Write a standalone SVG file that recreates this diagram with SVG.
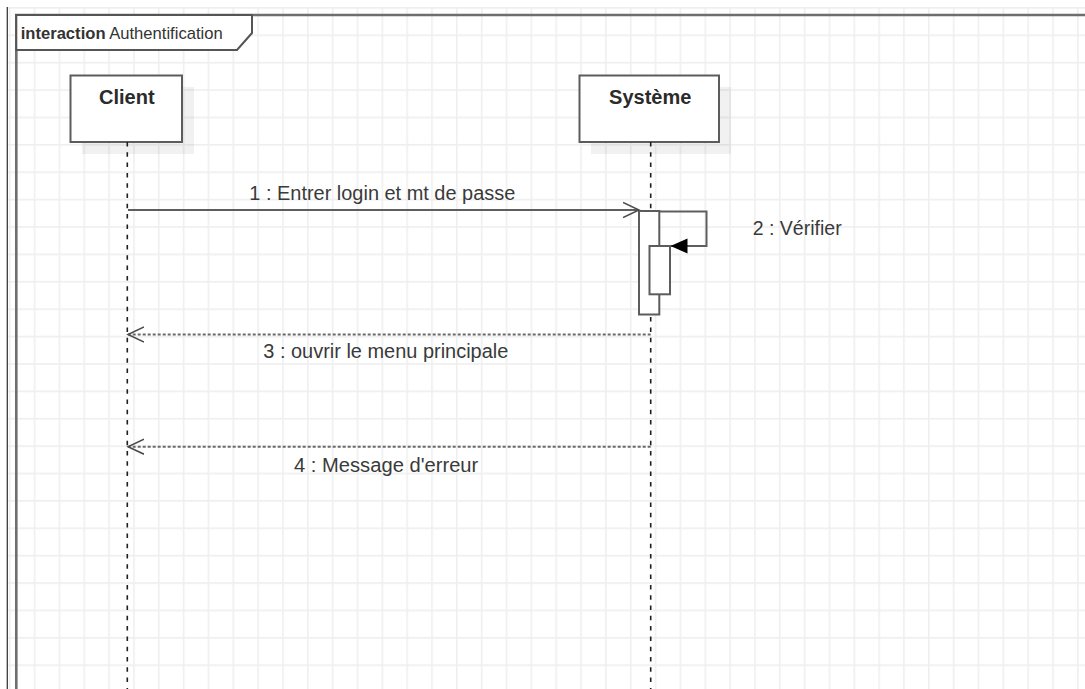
<svg xmlns="http://www.w3.org/2000/svg" width="1085" height="689" viewBox="0 0 1085 689">
  <style>
    .grid { stroke: #efefef; stroke-width: 1.6; fill: none; }
    .box { fill: #ffffff; stroke: #5c5c5c; stroke-width: 2; }
    .shadow { fill: #000000; fill-opacity: 0.055; }
    .title { font-family: "Liberation Sans", Arial, sans-serif; font-size: 20px; font-weight: bold; fill: #2b2b2b; text-anchor: middle; }
    .lbl { font-family: "Liberation Sans", Arial, sans-serif; font-size: 20px; fill: #3a3a3a; }
    .frm { font-family: "Liberation Sans", Arial, sans-serif; font-size: 16.6px; fill: #333333; }
    .lifeline { stroke: #1e1e1e; stroke-width: 1.6; stroke-dasharray: 4.5 5.8; fill: none; }
    .msg { stroke: #5e5e5e; stroke-width: 2; fill: none; }
    .ret { stroke: #6a6a6a; stroke-width: 2; stroke-dasharray: 3 2; fill: none; }
    .act { fill: #ffffff; stroke: #5c5c5c; stroke-width: 2; }
  </style>
  <defs>
    <pattern id="gridpat" patternUnits="userSpaceOnUse" x="8.9" y="7" width="24.84" height="27.39">
      <path d="M0.8,0 V27.39 M0,0.8 H24.84" class="grid"/>
    </pattern>
    <marker id="open" markerUnits="userSpaceOnUse" viewBox="0 0 18 18" refX="16" refY="9" markerWidth="18" markerHeight="18" orient="auto">
      <path d="M0,1.5 L16,9 L0,16.5" fill="none" stroke="#4a4a4a" stroke-width="1.5"/>
    </marker>
    <marker id="filled" markerUnits="userSpaceOnUse" viewBox="0 0 18 18" refX="17" refY="9" markerWidth="18" markerHeight="18" orient="auto">
      <path d="M0,1.5 L17,9 L0,16.5 Z" fill="#000000"/>
    </marker>
  </defs>

  <rect x="0" y="0" width="1085" height="689" fill="#ffffff"/>
  <rect x="7" y="7" width="1078" height="682" fill="url(#gridpat)"/>
  <line x1="7.3" y1="7" x2="7.3" y2="689" stroke="#3a3a3a" stroke-width="1.3"/>

  <g id="frame">
    <path d="M16.3,689 V15 H1085" fill="none" stroke="#6e6e6e" stroke-width="2.6"/>
    <path d="M16.3,15 H252 V33 L237,50 H16.3 Z" fill="#ffffff" stroke="#555555" stroke-width="2"/>
    <text x="20.7" y="39.3" class="frm"><tspan font-weight="bold">interaction</tspan> Authentification</text>
  </g>

  <g id="node-client">
    <rect x="82" y="87" width="112" height="67" class="shadow"/>
    <rect x="70.5" y="75.5" width="111.5" height="66.5" class="box"/>
    <text x="126.8" y="104.3" class="title">Client</text>
  </g>

  <g id="node-systeme">
    <rect x="591" y="87" width="140" height="67" class="shadow"/>
    <rect x="579.5" y="75.5" width="139.5" height="66.5" class="box"/>
    <text x="650.2" y="104" class="title">Système</text>
  </g>

  <g id="connectors">
    <line x1="127.3" y1="142" x2="127.3" y2="689" class="lifeline"/>
    <line x1="650.7" y1="142" x2="650.7" y2="689" class="lifeline"/>

    <g id="activation">
      <rect x="639" y="211" width="20.3" height="103.5" class="act"/>
    </g>

    <path id="msg1" d="M128,210 H639" class="msg" marker-end="url(#open)"/>
    <path id="msg2" d="M659.3,211.5 H706.5 V246 H670.5" class="msg" marker-end="url(#filled)"/>
    <g id="activation2">
      <rect x="649.5" y="246" width="20.5" height="48.3" class="act"/>
    </g>
    <path id="msg3" d="M650.7,334.5 H128" class="ret" marker-end="url(#open)"/>
    <path id="msg4" d="M650.7,446.7 H128" class="ret" marker-end="url(#open)"/>
  </g>

  <g id="labels">
    <text x="249.3" y="200" class="lbl" textLength="266" lengthAdjust="spacingAndGlyphs">1 : Entrer login et mt de passe</text>
    <text x="752.7" y="235" class="lbl" textLength="89" lengthAdjust="spacingAndGlyphs">2 : Vérifier</text>
    <text x="263.3" y="358.3" class="lbl" textLength="245" lengthAdjust="spacingAndGlyphs">3 : ouvrir le menu principale</text>
    <text x="294" y="471.7" class="lbl" textLength="184.3" lengthAdjust="spacingAndGlyphs">4 : Message d'erreur</text>
  </g>
</svg>
